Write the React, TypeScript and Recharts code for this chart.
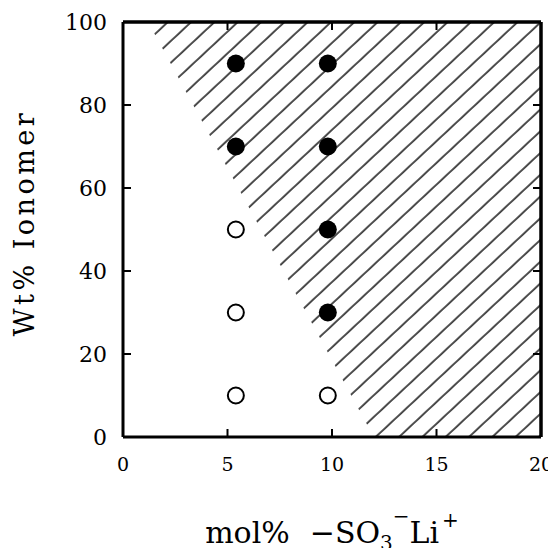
import React from 'react';
import { ComposedChart, XAxis, YAxis, Scatter, Area, ReferenceLine } from 'recharts';

const xTicks = [0, 5, 10, 15, 20];
const yTicks = [0, 20, 40, 60, 80, 100];

const filledX = [5.4, 9.8, 5.4, 9.8, 9.8, 9.8];
const filledY = [90, 90, 70, 70, 50, 30];
const openX = [5.4, 5.4, 5.4, 9.8];
const openY = [50, 30, 10, 10];

// hatched region: for each x, the hatched range [low, high] of Wt% Ionomer
const boundaryX = [1.2, 12, 20];
const boundaryLow = [100, 0, 0];
const boundaryHigh = [100, 100, 100];

const xMax = 20;
const yMax = 100;

const filledData = filledX.map((x, i) => ({ x, y: filledY[i] }));
const openData = openX.map((x, i) => ({ x, y: openY[i] }));
const regionData = boundaryX.map((x, i) => ({ x, r: [boundaryLow[i], boundaryHigh[i]] }));

const FONT = '"DejaVu Serif", serif';
const TL = 8;
const INK = '#000';

const FilledDot = (p: any) => <circle cx={p.cx} cy={p.cy} r={9} fill={INK} />;
const OpenDot = (p: any) => (
  <circle cx={p.cx} cy={p.cy} r={8} fill="#fff" stroke={INK} strokeWidth={2} />
);

const BottomTick = (p: any) => (
  <g>
    <line x1={p.x} x2={p.x} y1={p.y} y2={p.y - TL} stroke={INK} strokeWidth={2} />
    <text x={p.x} y={p.y + 34} textAnchor="middle" fontFamily={FONT} fontSize={19} fill={INK}>
      {p.payload.value}
    </text>
  </g>
);
const TopTick = (p: any) => (
  <line x1={p.x} x2={p.x} y1={p.y} y2={p.y + TL} stroke={INK} strokeWidth={2} />
);
const LeftTick = (p: any) => (
  <g>
    <line x1={p.x} x2={p.x + TL} y1={p.y} y2={p.y} stroke={INK} strokeWidth={2} />
    <text x={p.x - 16} y={p.y} dy="0.36em" textAnchor="end" fontFamily={FONT} fontSize={22} fill={INK}>
      {p.payload.value}
    </text>
  </g>
);
const RightTick = (p: any) => (
  <line x1={p.x} x2={p.x - TL} y1={p.y} y2={p.y} stroke={INK} strokeWidth={2} />
);

const XLabel = (props: any) => {
  const vb = props.viewBox || {};
  const cx = vb.x + vb.width / 2;
  const y = vb.y + 106;
  return (
    <text x={cx} y={y} textAnchor="middle" fontFamily={FONT} fontSize={30} fill={INK}>
      <tspan>mol%</tspan>
      <tspan dx={20}>−SO</tspan>
      <tspan dy={7} fontSize={20}>3</tspan>
      <tspan dy={-27} fontSize={20}>−</tspan>
      <tspan dy={20} fontSize={30}>Li</tspan>
      <tspan dy={-16} dx={3} fontSize={20}>+</tspan>
    </text>
  );
};

const YLabel = () => (
  <text
    x={0}
    y={0}
    transform="translate(26,215) rotate(-90)"
    textAnchor="middle"
    fontFamily={FONT}
    fontSize={27}
    letterSpacing={3.5}
    fill={INK}
  >
    Wt% Ionomer
  </text>
);

const axisLine = { stroke: INK, strokeWidth: 3 };

export default function App() {
  return (
    <div style={{ marginBottom: -8, width: 548, overflow: 'visible' }}>
      <ComposedChart
        width={548}
        height={548}
        margin={{ top: 13, right: 14, bottom: 89, left: 0 }}
        style={{ overflow: 'visible' }}
      >
        <defs>
          <pattern
            id="hatch"
            patternUnits="userSpaceOnUse"
            width={16}
            height={15.9}
            patternTransform="rotate(-43)"
          >
            <line x1={-2} y1={8} x2={18} y2={8} stroke={INK} strokeWidth={1.4} />
          </pattern>
        </defs>
        <Area
          data={regionData}
          dataKey="r"
          type="linear"
          stroke="none"
          fill="url(#hatch)"
          fillOpacity={1}
          isAnimationActive={false}
          activeDot={false}
          dot={false}
        />
        <ReferenceLine y={yMax} stroke={INK} strokeWidth={3} ifOverflow="visible" />
        <ReferenceLine x={xMax} stroke={INK} strokeWidth={3} ifOverflow="visible" />
        <XAxis
          dataKey="x"
          type="number"
          domain={[0, 20]}
          ticks={xTicks}
          allowDataOverflow
          height={30}
          tickSize={0}
          tickMargin={0}
          tickLine={false}
          axisLine={axisLine}
          tick={<BottomTick />}
          label={<XLabel />}
        />
        <XAxis
          xAxisId="top"
          dataKey="x"
          orientation="top"
          type="number"
          domain={[0, 20]}
          ticks={xTicks}
          allowDataOverflow
          height={1}
          tickSize={0}
          tickMargin={0}
          tickLine={false}
          tick={<TopTick />}
          axisLine={axisLine}
        />
        <YAxis
          type="number"
          domain={[0, 100]}
          ticks={yTicks}
          allowDataOverflow
          width={115}
          tickSize={0}
          tickMargin={0}
          tickLine={false}
          axisLine={axisLine}
          tick={<LeftTick />}
          label={<YLabel />}
        />
        <YAxis
          yAxisId="right"
          orientation="right"
          type="number"
          domain={[0, 100]}
          ticks={yTicks}
          allowDataOverflow
          width={1}
          tickSize={0}
          tickMargin={0}
          tickLine={false}
          tick={<RightTick />}
          axisLine={axisLine}
        />
        <Scatter data={filledData} dataKey="y" shape={FilledDot} isAnimationActive={false} />
        <Scatter data={openData} dataKey="y" shape={OpenDot} isAnimationActive={false} />
        <Scatter
          data={filledData}
          dataKey="y"
          xAxisId="top"
          yAxisId="right"
          shape={() => null}
          isAnimationActive={false}
          legendType="none"
        />
      </ComposedChart>
    </div>
  );
}
